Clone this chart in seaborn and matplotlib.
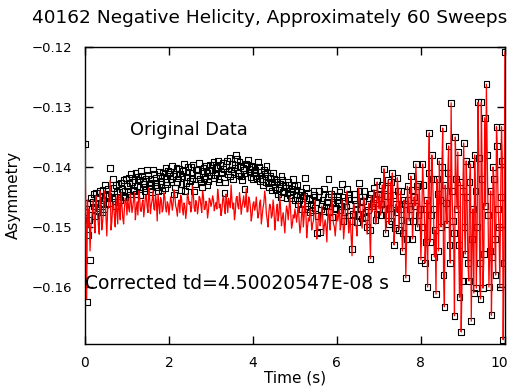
import numpy as np
import pandas as pd
import matplotlib
matplotlib.use("Agg")
import matplotlib.pyplot as plt
import matplotlib.transforms as mtransforms
import seaborn as sns

# --- data ---
# asymmetry magnitudes in units of 1e-4 (all values are negative), one per 0.02 s bin
TIME_STEP = 0.02

original_e4 = [
    # 0 - 1 s
    1362, 1475, 1625, 1460, 1513, 1488, 1555, 1452, 1470, 1458,
    1445, 1466, 1482, 1443, 1452, 1474, 1468, 1450, 1440, 1462,
    1475, 1438, 1455, 1470, 1430, 1447, 1462, 1436, 1448, 1460,
    1402, 1444, 1452, 1420, 1435, 1449, 1466, 1430, 1441, 1458,
    1428, 1442, 1455, 1426, 1437, 1451, 1422, 1439, 1450, 1419,
    1432,
    # 1 - 2 s
    1440, 1418, 1427, 1446, 1412, 1425, 1438, 1440, 1422, 1410,
    1445, 1432, 1416, 1421, 1433, 1447, 1407, 1414, 1424, 1428,
    1441, 1436, 1419, 1405, 1413, 1430, 1437, 1419, 1426, 1442,
    1404, 1412, 1431, 1426, 1418, 1434, 1440, 1408, 1415, 1423,
    1428, 1439, 1409, 1416, 1435, 1402, 1420, 1429, 1406, 1411,
    # 2 - 3 s
    1408, 1420, 1425, 1398, 1415, 1446, 1434, 1412, 1402, 1425,
    1419, 1403, 1411, 1438, 1428, 1416, 1406, 1395, 1440, 1427,
    1417, 1409, 1399, 1432, 1423, 1400, 1410, 1418, 1396, 1441,
    1429, 1404, 1414, 1413, 1405, 1393, 1420, 1426, 1433, 1407,
    1401, 1419, 1416, 1398, 1409, 1430, 1424, 1405, 1397, 1414,
    # 3 - 4 s
    1405, 1396, 1392, 1418, 1413, 1402, 1400, 1389, 1420, 1425,
    1397, 1408, 1411, 1393, 1403, 1443, 1426, 1399, 1390, 1412,
    1407, 1385, 1416, 1404, 1395, 1421, 1409, 1397, 1401, 1380,
    1387, 1410, 1414, 1391, 1398, 1415, 1422, 1402, 1405, 1437,
    1411, 1394, 1396, 1388, 1403, 1409, 1417, 1398, 1400, 1420,
    # 4 - 5 s
    1410, 1400, 1404, 1415, 1418, 1392, 1399, 1423, 1414, 1408,
    1420, 1430, 1405, 1412, 1425, 1398, 1409, 1427, 1433, 1418,
    1415, 1439, 1426, 1410, 1420, 1433, 1438, 1421, 1424, 1446,
    1435, 1428, 1450, 1415, 1422, 1442, 1440, 1430, 1434, 1452,
    1444, 1425, 1430, 1447, 1452, 1436, 1440, 1420, 1432, 1455,
    # 5 - 6 s
    1446, 1438, 1430, 1462, 1455, 1447, 1441, 1470, 1462, 1452,
    1448, 1418, 1435, 1465, 1470, 1443, 1452, 1476, 1463, 1455,
    1472, 1440, 1447, 1468, 1458, 1510, 1482, 1450, 1440, 1508,
    1471, 1462, 1455, 1445, 1437, 1473, 1466, 1458, 1450, 1420,
    1475, 1466, 1445, 1483, 1461, 1449, 1438, 1470, 1468, 1455,
    # 6 - 7 s
    1460, 1448, 1441, 1472, 1465, 1428, 1450, 1490, 1475, 1457,
    1466, 1437, 1452, 1481, 1445, 1463, 1490, 1537, 1478, 1445,
    1455, 1470, 1462, 1492, 1480, 1427, 1440, 1458, 1468, 1486,
    1457, 1440, 1449, 1475, 1483, 1500, 1472, 1452, 1505, 1553,
    1445, 1466, 1460, 1434, 1453, 1488, 1478, 1423, 1446, 1470,
    # 7 - 8 s
    1445, 1480, 1462, 1430, 1470, 1403, 1435, 1510, 1480, 1448,
    1422, 1495, 1468, 1425, 1490, 1410, 1447, 1530, 1502, 1462,
    1475, 1418, 1440, 1505, 1470, 1440, 1488, 1540, 1510, 1455,
    1462, 1585, 1520, 1432, 1455, 1490, 1470, 1415, 1438, 1520,
    1490, 1450, 1465, 1395, 1432, 1500, 1480, 1428, 1470, 1555,
    # 8 - 9 s
    1500, 1395, 1430, 1470, 1560, 1525, 1455, 1600, 1410, 1343,
    1525, 1480, 1380, 1420, 1470, 1550, 1505, 1612, 1420, 1445,
    1540, 1390, 1455, 1500, 1400, 1335, 1580, 1633, 1430, 1460,
    1495, 1410, 1365, 1530, 1560, 1293, 1440, 1490, 1510, 1648,
    1350, 1420, 1470, 1375, 1530, 1617, 1425, 1675, 1590, 1440,
    # 9 - 10 s
    1360, 1500, 1545, 1390, 1450, 1560, 1590, 1425, 1395, 1657,
    1520, 1470, 1610, 1380, 1440, 1602, 1500, 1292, 1385, 1560,
    1620, 1292, 1420, 1602, 1545, 1318, 1465, 1262, 1380, 1480,
    1600, 1540, 1440, 1647, 1550, 1400, 1420, 1520, 1580, 1333,
    1365, 1470, 1500, 1600, 1450, 1333, 1390, 1688, 1560, 1208,
]

# corrected curve up to 7 s; after that it lies on top of the original points
corrected_e4 = [
    # 0 - 1 s
    1370, 1480, 1620, 1455, 1500, 1470, 1540, 1500, 1485, 1472,
    1455, 1490, 1510, 1448, 1462, 1478, 1498, 1512, 1440, 1460,
    1505, 1492, 1475, 1440, 1450, 1482, 1515, 1470, 1468, 1445,
    1422, 1505, 1490, 1465, 1458, 1482, 1500, 1450, 1472, 1495,
    1447, 1470, 1488, 1442, 1463, 1485, 1495, 1468, 1452, 1458,
    1480,
    # 1 - 2 s
    1452, 1468, 1475, 1445, 1458, 1476, 1466, 1452, 1443, 1488,
    1470, 1458, 1480, 1440, 1450, 1472, 1474, 1461, 1455, 1483,
    1468, 1449, 1447, 1466, 1476, 1435, 1452, 1478, 1463, 1455,
    1440, 1470, 1472, 1446, 1458, 1490, 1445, 1462, 1478, 1451,
    1456, 1475, 1470, 1443, 1449, 1468, 1475, 1458, 1462, 1480,
    # 2 - 3 s
    1465, 1450, 1458, 1472, 1460, 1438, 1448, 1465, 1470, 1482,
    1462, 1455, 1476, 1447, 1453, 1470, 1480, 1460, 1466, 1486,
    1472, 1444, 1450, 1462, 1458, 1475, 1468, 1432, 1445, 1468,
    1474, 1456, 1460, 1478, 1467, 1449, 1452, 1463, 1476, 1440,
    1448, 1471, 1470, 1457, 1462, 1485, 1473, 1452, 1455, 1466,
    # 3 - 4 s
    1460, 1448, 1455, 1473, 1465, 1459, 1470, 1437, 1450, 1468,
    1462, 1481, 1472, 1454, 1448, 1466, 1478, 1445, 1458, 1476,
    1452, 1460, 1468, 1430, 1455, 1470, 1460, 1488, 1476, 1452,
    1449, 1465, 1470, 1443, 1455, 1479, 1466, 1458, 1448, 1467,
    1462, 1436, 1475, 1474, 1450, 1455, 1468, 1490, 1480, 1462,
    # 4 - 5 s
    1458, 1472, 1466, 1450, 1470, 1485, 1478, 1460, 1455, 1495,
    1482, 1468, 1460, 1440, 1452, 1478, 1488, 1500, 1475, 1462,
    1466, 1485, 1480, 1455, 1470, 1505, 1490, 1472, 1462, 1490,
    1478, 1448, 1470, 1498, 1485, 1476, 1492, 1510, 1482, 1465,
    1472, 1488, 1468, 1450, 1476, 1502, 1495, 1480, 1485, 1470,
    # 5 - 6 s
    1480, 1492, 1475, 1460, 1490, 1510, 1498, 1478, 1465, 1500,
    1482, 1445, 1472, 1518, 1500, 1485, 1490, 1470, 1480, 1505,
    1495, 1490, 1472, 1455, 1488, 1520, 1505, 1482, 1478, 1498,
    1490, 1465, 1482, 1512, 1498, 1488, 1500, 1525, 1485, 1470,
    1492, 1505, 1470, 1440, 1480, 1495, 1500, 1515, 1495, 1478,
    # 6 - 7 s
    1490, 1480, 1470, 1505, 1495, 1455, 1482, 1520, 1500, 1470,
    1458, 1440, 1475, 1510, 1495, 1488, 1520, 1548, 1480, 1462,
    1470, 1495, 1500, 1515, 1462, 1435, 1455, 1478, 1490, 1502,
    1470, 1450, 1460, 1485, 1495, 1512, 1480, 1460, 1505, 1553,
    1448, 1475, 1465, 1438, 1460, 1495, 1490, 1425, 1450, 1470,
]

x_ticks = [0, 2, 4, 6, 8, 10]
y_ticks = [-0.16, -0.15, -0.14, -0.13, -0.12]

TITLE = "40162 Negative Helicity, Approximately 60 Sweeps"
NOTE_ORIG = "Original Data"
NOTE_CORR = "Corrected td=4.50020547E-08 s"

# --- build frames ---
corr_full = corrected_e4 + original_e4[len(corrected_e4):]
df_orig = pd.DataFrame({"time": np.arange(len(original_e4)) * TIME_STEP,
                        "asym": -np.array(original_e4) / 1e4})
df_corr = pd.DataFrame({"time": np.arange(len(corr_full)) * TIME_STEP,
                        "asym": -np.array(corr_full) / 1e4})

# --- plot ---
sns.set_style("ticks")
plt.rcParams["font.family"] = ["DejaVu Sans"]
plt.rcParams["text.color"] = "black"
plt.rcParams["axes.labelcolor"] = "black"

fig = plt.figure(figsize=(5.11, 3.89), dpi=100)
ax = fig.add_axes([0.1663, 0.1157, 0.8217, 0.7635])

sns.scatterplot(data=df_orig, x="time", y="asym", marker="s", s=17,
                facecolor="none", edgecolor="black", linewidth=0.8, ax=ax, zorder=2)
sns.lineplot(data=df_corr, x="time", y="asym", color="red", linewidth=0.9,
             sort=False, estimator=None, ax=ax, zorder=3)

ax.set_xlim(0, 10)
ax.set_ylim(-0.1695, -0.12)
ax.set_xticks(x_ticks)
ax.set_yticks(y_ticks)
ax.set_xticklabels([str(v) for v in x_ticks])
ax.set_yticklabels([f"{v:.2f}".replace("-", "\u2212") for v in y_ticks])
ax.tick_params(direction="in", length=6, width=1, top=True, right=True,
               colors="black", labelcolor="black")
ax.tick_params(axis="x", labelsize=10, pad=9)
ax.tick_params(axis="y", labelsize=9.5, pad=9)
for sp in ax.spines.values():
    sp.set_color("black")
    sp.set_linewidth(1)

# the last x label sits right at the figure edge; nudge it in a little
last_lbl = ax.get_xticklabels()[-1]
last_lbl.set_transform(last_lbl.get_transform() +
                       mtransforms.ScaledTranslation(-4 / 72, 0, fig.dpi_scale_trans))

ax.set_xlabel("Time (s)", fontsize=11, labelpad=0)
ax.set_ylabel("Asymmetry", fontsize=11, labelpad=8)

ax.text(1.07, -0.1338, NOTE_ORIG, fontsize=12.8, va="center", ha="left")
ax.text(0.0, -0.1595, NOTE_CORR, fontsize=13.5, va="center", ha="left")

fig.text(0.527, 0.953, TITLE, fontsize=13.3, ha="center", va="center")

fig.savefig("out.png", dpi=100)
